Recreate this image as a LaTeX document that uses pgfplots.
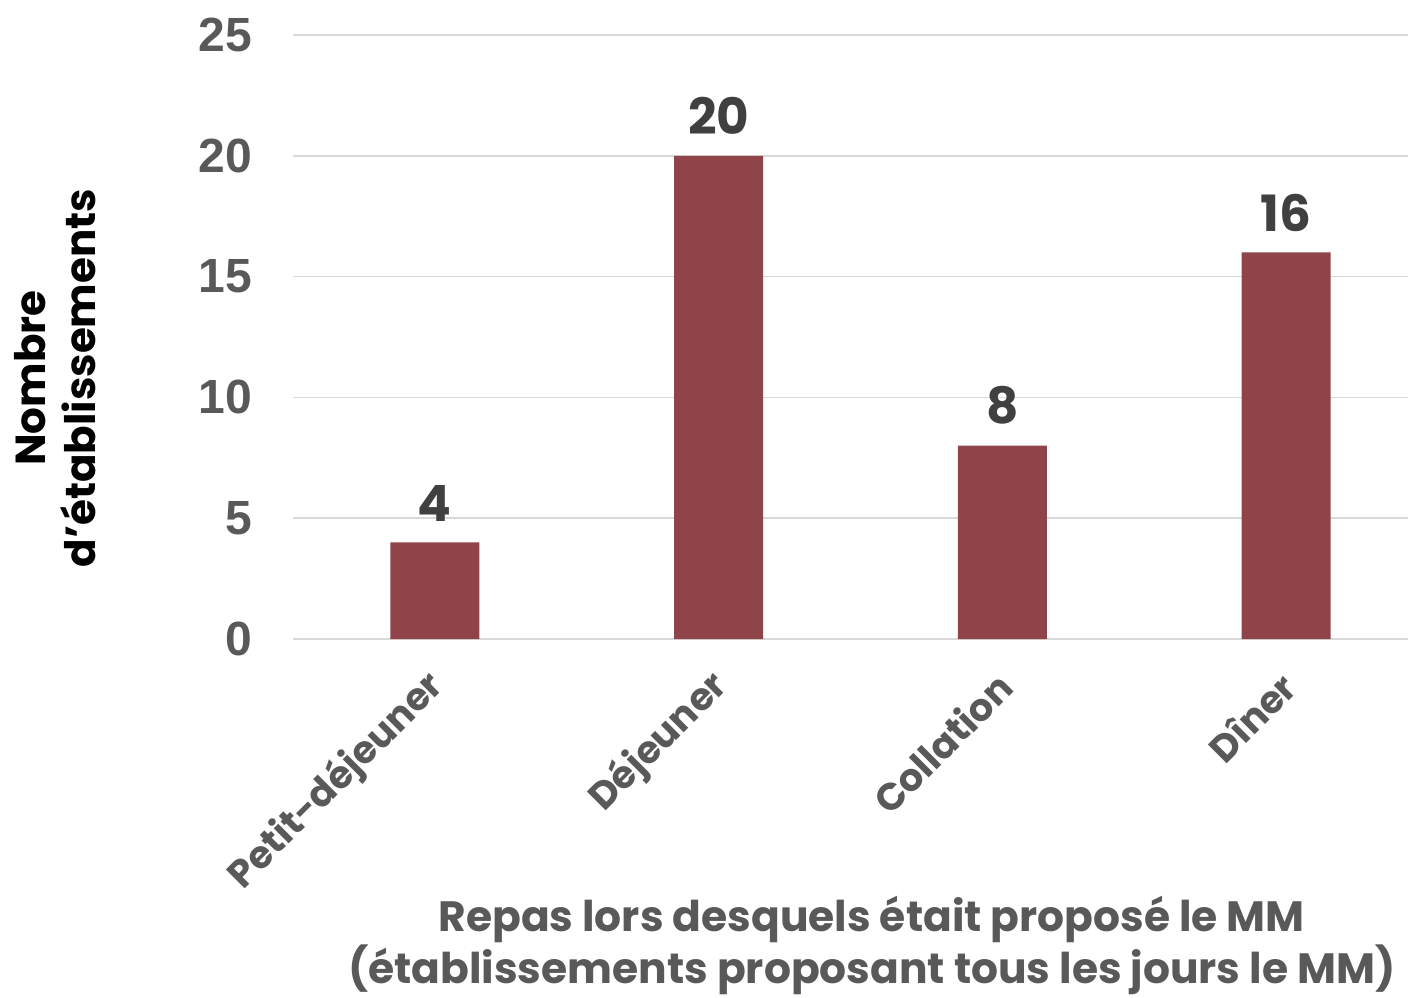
\documentclass[border=0pt]{standalone}
\usepackage{pgfplots}
\pgfplotsset{compat=1.18}
\usepackage{fontspec}
\setmainfont{Poppins}[BoldFont={* Bold}]
\newfontfamily\tickfont{Liberation Sans}
\definecolor{barred}{HTML}{8E4449}
\definecolor{tickgray}{HTML}{595959}
\definecolor{lblgray}{HTML}{404040}
\definecolor{gridgray}{HTML}{D9D9D9}
\begin{document}
\begin{tikzpicture}
\path[use as bounding box] (-146.5pt,-179pt) rectangle (557.5pt,319.5pt);
\begin{axis}[
  at={(0,0)}, anchor=south west,
  width=557.5pt, height=302pt, scale only axis,
  xmin=-0.5, xmax=3.43, ymin=0, ymax=25,
  ytick={0,5,10,15,20,25},
  xtick={0,1,2,3},
  xticklabels={Petit-déjeuner,Déjeuner,Collation,Dîner},
  axis line style={draw=none},
  major tick length=0pt,
  ymajorgrids, grid style={gridgray, line width=0.8pt},
  yticklabel style={font=\tickfont\bfseries\fontsize{24}{27}\selectfont, text=tickgray, xshift=-17pt},
  /pgf/number format/assume math mode=true,
  xticklabel style={font=\bfseries\fontsize{19}{22}\selectfont, text=tickgray, rotate=45, anchor=east, yshift=-15.6pt, xshift=-10pt},
  ylabel={Nombre\\d’établissements},
  ylabel style={font=\bfseries\fontsize{21}{25}\selectfont, text=black, align=center, at={(axis description cs:-0.213,0.432)}, rotate=0, anchor=center},
  xlabel={Repas lors desquels était proposé le MM\\(établissements proposant tous les jours le MM)},
  xlabel style={font=\bfseries\fontsize{21.2}{24}\selectfont, text=tickgray, align=center, inner sep=0pt, at={(axis description cs:0.519,-0.507)}, anchor=center},
  nodes near coords,
  nodes near coords style={font=\bfseries\fontsize{25}{28}\selectfont, text=lblgray, yshift=7pt},
  clip=false,
]
\addplot[ybar, bar width=44.5pt, fill=barred, draw=none] coordinates {(0,4) (1,20) (2,8) (3,16)};
\end{axis}
\end{tikzpicture}
\end{document}
